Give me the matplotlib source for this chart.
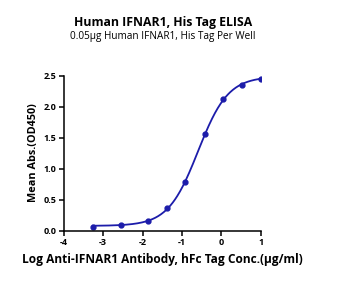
import matplotlib
matplotlib.use("Agg")
import matplotlib.pyplot as plt
import numpy as np

# data
log_conc = [-3.26, -2.55, -1.85, -1.38, -0.91, -0.42, 0.05, 0.53, 1.01]
od450 = [0.065, 0.097, 0.15, 0.37, 0.79, 1.55, 2.12, 2.35, 2.45]

title = "Human IFNAR1, His Tag ELISA"
subtitle = "0.05\u03bcg Human IFNAR1, His Tag Per Well"
xlabel = "Log Anti-IFNAR1 Antibody, hFc Tag Conc.(\u03bcg/ml)"
ylabel = "Mean Abs.(OD450)"
xticks = [-4, -3, -2, -1, 0, 1]
yticks = [0.0, 0.5, 1.0, 1.5, 2.0, 2.5]

plt.rcParams['font.family'] = ['Open Sans', 'DejaVu Sans']

x = np.array(log_conc)
y = np.array(od450)

# 4PL fit: grid over ec50 / hill, linear least squares for bottom / top
best = None
for ec50 in np.linspace(-1.5, 0.5, 201):
    for h in np.linspace(0.5, 2.5, 201):
        s = 1.0 / (1.0 + 10 ** ((ec50 - x) * h))
        A = np.column_stack([np.ones_like(s), s])
        coef, *_ = np.linalg.lstsq(A, y, rcond=None)
        err = np.sum((A @ coef - y) ** 2)
        if best is None or err < best[0]:
            best = (err, ec50, h, coef)
_, ec50, h, (bottom, span) = best
xs = np.linspace(x.min(), x.max(), 300)
ys = bottom + span / (1.0 + 10 ** ((ec50 - xs) * h))

fig = plt.figure(figsize=(3.43, 2.84), dpi=100)
ax = fig.add_axes([0.186, 0.188, 0.574, 0.546])

blue = '#1c1caa'
ax.plot(xs, ys, color=blue, lw=1.3)
ax.plot(x, y, 'o', color=blue, ms=3.5)

ax.set_xlim(-4, 1)
ax.set_ylim(0, 2.5)
ax.set_xticks(xticks)
ax.set_yticks(yticks)
ax.set_xticklabels([str(t) for t in xticks])
ax.set_yticklabels([f"{t:.1f}" for t in yticks])
for s in ['top', 'right']:
    ax.spines[s].set_visible(False)
for s in ['left', 'bottom']:
    ax.spines[s].set_linewidth(1.1)
ax.tick_params(direction='out', length=3.5, width=1.1, labelsize=6.5, pad=2)
for lab in ax.get_xticklabels() + ax.get_yticklabels():
    lab.set_fontweight('bold')

ax.set_ylabel(ylabel, fontsize=7.8, fontweight='bold', labelpad=3)
ax.set_xlabel(xlabel, fontsize=8.6, fontweight='bold', labelpad=4)

fig.text(0.475, 0.922, title, ha='center', va='center', fontsize=8.8, fontweight='bold')
fig.text(0.475, 0.872, subtitle, ha='center', va='center', fontsize=7.2)

fig.savefig('out.png', dpi=100)
